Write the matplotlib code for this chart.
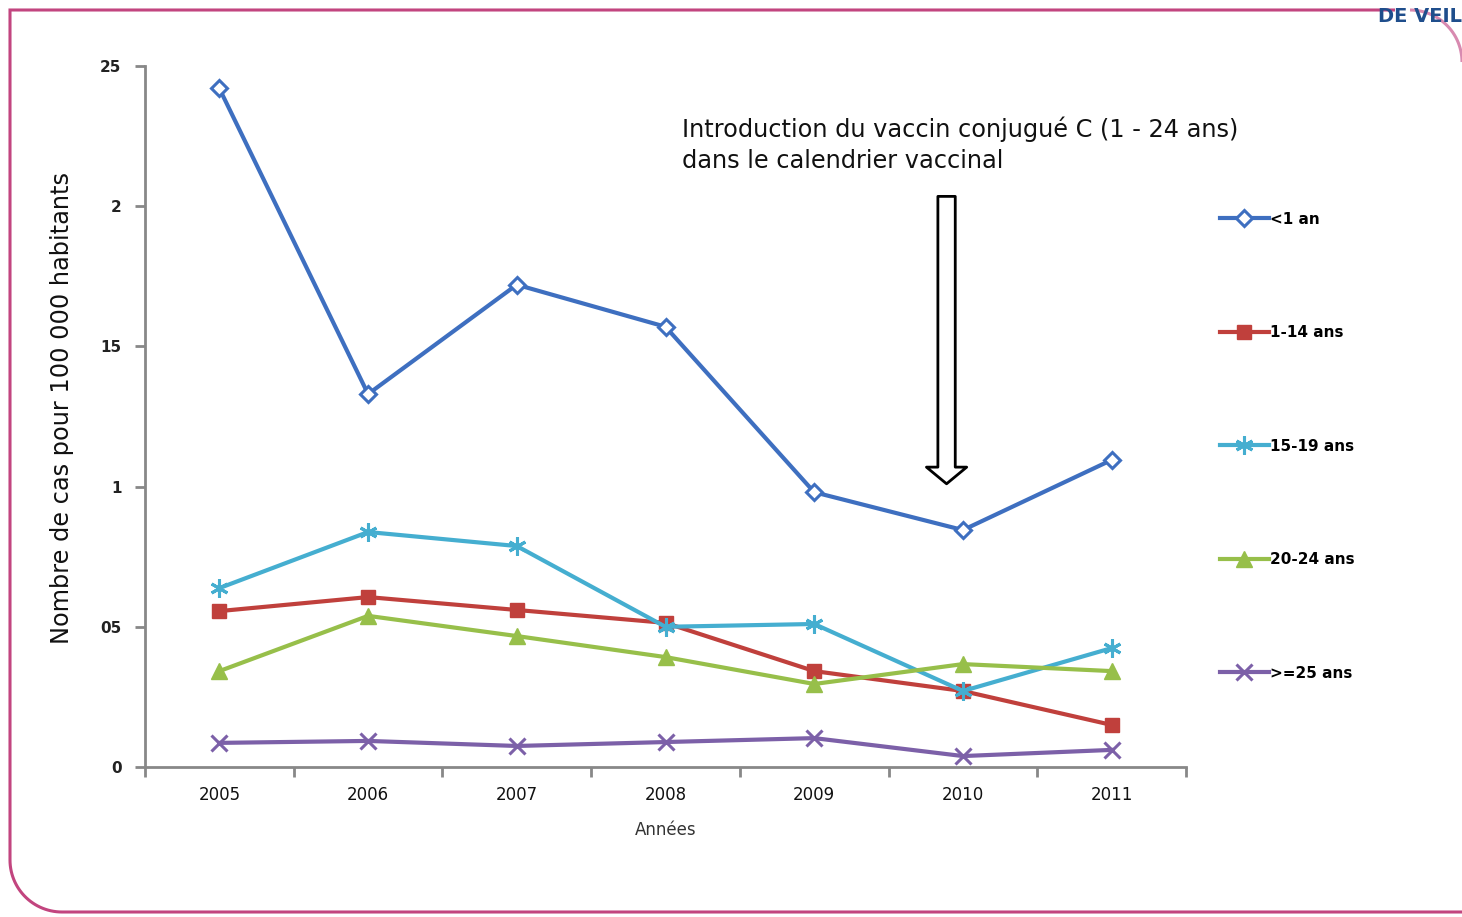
import numpy as np
import matplotlib
matplotlib.use("Agg")
import matplotlib.pyplot as plt
from matplotlib.path import Path
from matplotlib.patches import PathPatch
from matplotlib.lines import Line2D

# Incidence per 100 000 inhabitants by age group
years = ["2005", "2006", "2007", "2008", "2009", "2010", "2011"]
lt1 = [2.42, 1.33, 1.72, 1.57, 0.98, 0.845, 1.095]
a1_14 = [0.556, 0.606, 0.560, 0.514, 0.342, 0.271, 0.150]
a15_19 = [0.638, 0.838, 0.788, 0.500, 0.510, 0.271, 0.424]
a20_24 = [0.342, 0.539, 0.467, 0.392, 0.296, 0.367, 0.342]
ge25 = [0.086, 0.093, 0.075, 0.089, 0.103, 0.039, 0.061]

series_labels = ["<1 an", "1-14 ans", "15-19 ans", "20-24 ans", ">=25 ans"]
ytick_vals = [0, 0.5, 1, 1.5, 2, 2.5]
ytick_text = ["0", "05", "1", "15", "2", "25"]

# vaccine introduction marker (category position, y from / to)
arrow_x = 4.89
arrow_y = (2.035, 1.01)

W, H = 1462, 917
fig = plt.figure(figsize=(W / 100, H / 100), dpi=100)
fig.patch.set_facecolor("white")
ax = fig.add_axes([145 / W, 1 - 767 / H, (1186 - 145) / W, (767 - 66) / H])

narrow = ["DejaVu Sans"]
x = np.arange(len(years))

styles = [
    dict(color="#3e6fc0", marker="D", mfc="white", mew=2.2, ms=8),
    dict(color="#c0403c", marker="s", mfc="#c0403c", mew=1, ms=10),
    dict(color="#45aed0", marker=(6, 2, 0), mew=2.2, ms=13),
    dict(color="#97bf4a", marker="^", mfc="#97bf4a", mew=1, ms=11),
    dict(color="#7c60a8", marker="x", mew=2.2, ms=11),
]
data = [lt1, a1_14, a15_19, a20_24, ge25]

for vals, st, lab in zip(data, styles, series_labels):
    ax.plot(x, vals, lw=3, label=lab, zorder=3, **st)

ax.set_xlim(-0.5, len(years) - 0.5)
ax.set_ylim(0, 2.5)
ax.set_yticks(ytick_vals)
ax.set_yticklabels(ytick_text, fontsize=11, fontweight="bold", color="#222222")
ax.set_xticks(x)
ax.set_xticklabels(years, fontsize=12, family=narrow, color="#111111")
ax.set_xticks(np.arange(-0.5, len(years)), minor=True)
ax.tick_params(axis="x", which="major", length=0, pad=14)
ax.tick_params(axis="x", which="minor", length=7, width=2, color="#888888", direction="out")
ax.tick_params(axis="y", length=7, width=2, color="#888888", pad=10)

for side in ("top", "right"):
    ax.spines[side].set_visible(False)
for side in ("left", "bottom"):
    ax.spines[side].set_color("#888888")
    ax.spines[side].set_linewidth(2)

ax.set_xlabel("Années", fontsize=12, color="#333333", labelpad=12)
fig.text(62 / W, 1 - 408 / H, "Nombre de cas pour 100 000 habitants",
         rotation=90, ha="center", va="center", fontsize=17.3, family=narrow,
         color="#111111")

fig.text(682 / W, 1 - 145 / H,
         "Introduction du vaccin conjugué C (1 - 24 ans)\ndans le calendrier vaccinal",
         ha="left", va="center", fontsize=17.3, family=narrow, color="#111111",
         linespacing=1.38)

ax.annotate("", xy=(arrow_x, arrow_y[1]), xytext=(arrow_x, arrow_y[0]),
            arrowprops=dict(arrowstyle="simple,head_width=2.9,head_length=1.2,tail_width=1.25",
                            mutation_scale=10, fc="white", ec="black", lw=2,
                            shrinkA=0, shrinkB=0), zorder=4)

handles = [Line2D([0], [0], lw=3, **st) for st in styles]
fig.legend(handles, series_labels, loc="upper left",
           bbox_to_anchor=(1212 / W, 1 - 204 / H), frameon=False,
           borderpad=0, handlelength=3.2, handletextpad=0.1,
           labelspacing=6.45, prop=dict(family=narrow, size=11, weight="bold"))

# pink page frame with rounded corners
def arc(cx, cy, r, a0, a1, n=30):
    t = np.radians(np.linspace(a0, a1, n))
    return list(zip(cx + r * np.cos(t), cy + r * np.sin(t)))

r = 52
frame = [(1395, 10), (10, 10), (10, 912 - r)]
frame += arc(10 + r, 912 - r, r, 180, 90)
frame += [(W + 5, 912)]
frame_fig = [(px / W, 1 - py / H) for px, py in frame]
fig.add_artist(PathPatch(Path(frame_fig), fill=False, ec="#c2457f", lw=2.2,
                         transform=fig.transFigure))
corner = arc(1410, 62, r, -90, 0)
corner_fig = [(px / W, 1 - py / H) for px, py in corner]
fig.add_artist(PathPatch(Path(corner_fig), fill=False, ec="#d88ab0", lw=2.2,
                         transform=fig.transFigure))
fig.text(1378 / W, 1 - 16 / H, "DE VEIL", fontsize=14, fontweight="bold",
         color="#1f4e8c", ha="left", va="center")

fig.savefig("out.png", dpi=100, facecolor="white")
